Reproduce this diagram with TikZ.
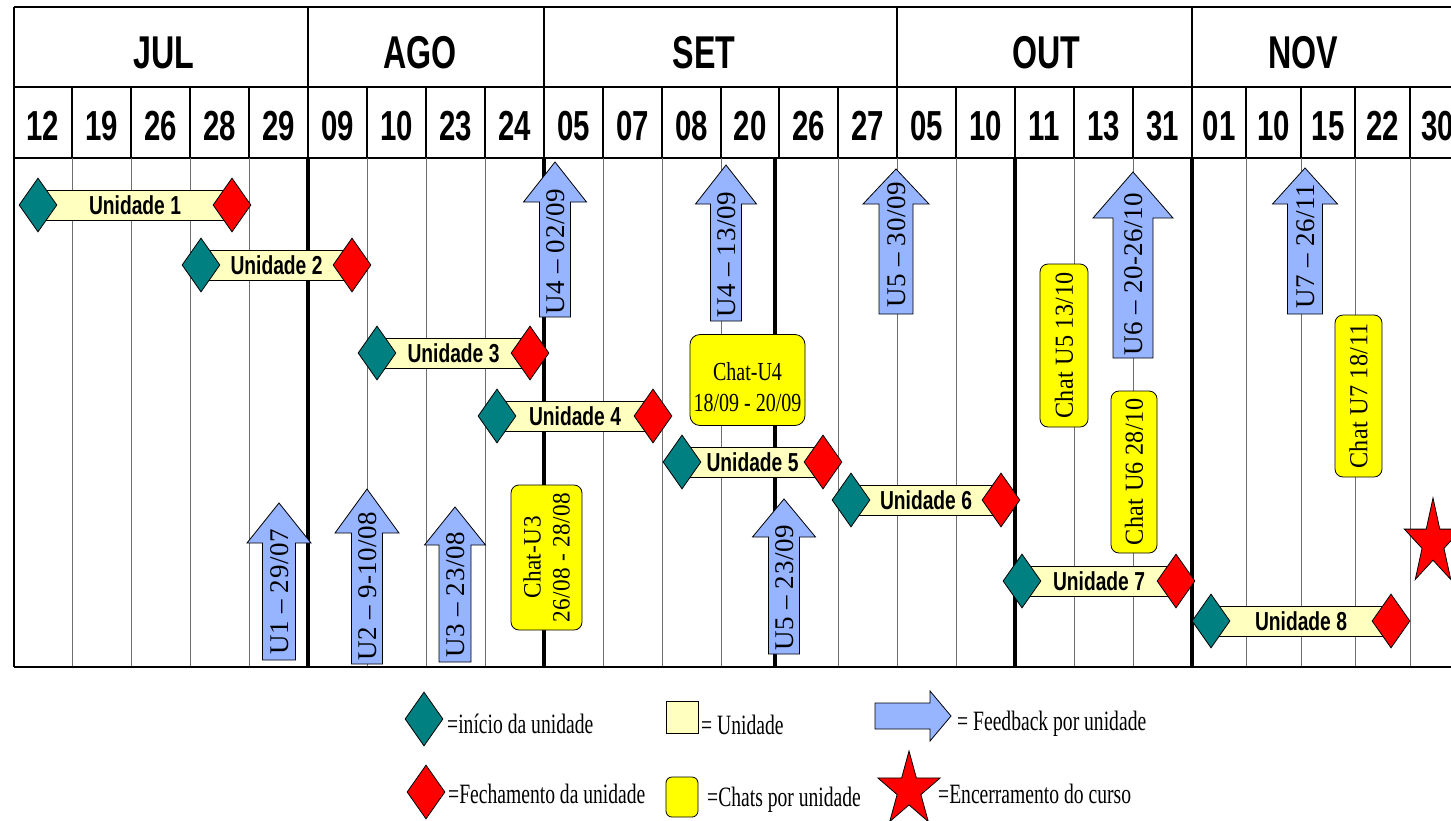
\documentclass[tikz,border=0pt]{standalone}
\usepackage{fontspec}
\usetikzlibrary{shapes.geometric}
\setmainfont{Liberation Serif}
\newfontfamily\hdrfont[FakeStretch=0.7]{Liberation Sans}
\newfontfamily\unitfont[FakeStretch=0.74]{Liberation Sans}
\newfontfamily\legfont[FakeStretch=0.7]{Liberation Serif}
\newfontfamily\chatfont[FakeStretch=0.77]{Liberation Serif}
\newfontfamily\rotfont[LetterSpace=2]{Liberation Serif}
\newfontfamily\rotchatfont[FakeStretch=0.93,LetterSpace=1.5]{Liberation Serif}
\definecolor{tealA}{RGB}{0,128,128}
\definecolor{barY}{RGB}{255,255,192}
\definecolor{fbBlue}{RGB}{150,180,255}
\definecolor{chatY}{RGB}{255,255,0}
\definecolor{gridG}{RGB}{110,110,110}
\newcommand{\unitrow}[5]{%
  \node[barbox, minimum width={#3-#2-6}] (#1) at ({(#2+#3)/2},-#4) {#5};
  \node[startd] (#1s) at (#2,-#4) {};
  \node[endd] (#1e) at (#3,-#4) {};
}
\newcommand{\fbup}[9]{%
  \draw[fbarrow] ({#2-#6/2},-#5) -- ({#2-#6/2},-#4) -- ({#2-#7/2},-#4) -- (#2,-#3) -- ({#2+#7/2},-#4) -- ({#2+#6/2},-#4) -- ({#2+#6/2},-#5) -- cycle;
  \node[fbtext] (#1) at (#2,-#8) {#9};
}
\begin{document}
\begin{tikzpicture}[x=1pt,y=1pt,
  hdrline/.style={draw=black, line width=1.4},
  thinv/.style={draw=gridG, line width=1},
  thickv/.style={draw=black, line width=3.5},
  monlbl/.style={inner sep=0, font={\hdrfont\bfseries\fontsize{46}{50}\selectfont}},
  daylbl/.style={inner sep=0, font={\hdrfont\bfseries\fontsize{42}{44}\selectfont}},
  startd/.style={diamond, draw=black, line width=0.8, fill=tealA, minimum width=38, minimum height=54, inner sep=0},
  endd/.style={diamond, draw=black, line width=0.8, fill=red, minimum width=38, minimum height=54, inner sep=0},
  barbox/.style={rectangle, draw=black, line width=0.8, fill=barY, minimum height=30, inner sep=0, font={\unitfont\bfseries\fontsize{26}{28}\selectfont}},
  fbarrow/.style={draw=black, line width=0.8, fill=fbBlue},
  fbtext/.style={rotate=90, inner sep=0, text height=18, text depth=0, font={\rotfont\fontsize{27}{30}\selectfont}},
  rotchat/.style={draw=black, line width=0.8, fill=chatY, rounded corners=8, rotate=90, inner sep=0, align=center, font={\rotchatfont\fontsize{26}{30}\selectfont}},
  chatbox/.style={draw=black, line width=0.8, fill=chatY, rounded corners=10, inner sep=0},
  legtext/.style={anchor=base west, inner sep=0, font={\legfont\fontsize{28}{30}\selectfont}}
]
\clip (0,0) rectangle (1451,-820);
\fill[white] (0,0) rectangle (1451,-820);
% header
\draw[hdrline] (14,-7) -- (1451,-7);
\foreach \x in {14,308,544,897,1192} \draw[hdrline] (\x,-7) -- (\x,-87);
\draw[hdrline] (14,-87) -- (1451,-87);
\draw[hdrline] (14,-158) -- (1451,-158);
\foreach \x in {14,72,131,190,249,308,367,426,485,544,603,662,721,779,838,897,956,1015,1074,1133,1192,1246,1301,1355,1410}
  \draw[hdrline] (\x,-87) -- (\x,-158);
\node[monlbl] (jul) at (164,-53) {JUL};
\node[monlbl] (ago) at (420,-53) {AGO};
\node[monlbl] (set) at (704,-53) {SET};
\node[monlbl] (out) at (1046,-53) {OUT};
\node[monlbl] (nov) at (1303,-53) {NOV};
\foreach \xa/\xb/\l [count=\i] in {14/72/12,72/131/19,131/190/26,190/249/28,249/308/29,308/367/09,367/426/10,426/485/23,485/544/24,544/603/05,603/662/07,662/721/08,721/779/20,779/838/26,838/897/27,897/956/05,956/1015/10,1015/1074/11,1074/1133/13,1133/1192/31,1192/1246/01,1246/1301/10,1301/1355/15,1355/1410/22,1410/1465/30}
  \node[daylbl] (day\i) at ({(\xa+\xb)/2},-126) {\l};
% body grid
\foreach \x in {72,131,190,249,367,426,485,603,662,721,838,897,956,1074,1133,1246,1301,1355,1410}
  \draw[thinv] (\x,-158) -- (\x,-667);
\foreach \x in {308,544,775,1015,1192}
  \draw[thickv] (\x,-158) -- (\x,-667);
\draw[black, line width=1.2] (14,-158) -- (14,-667);
\draw[black, line width=2] (14,-667) -- (1451,-667);
% feedback arrows
\fbup{fbA}{555}{162}{202}{317}{31}{63}{252}{U4 – 02/09}
\fbup{fbB}{726}{165}{204}{321}{31}{61}{255}{U4 – 13/09}
\fbup{fbC}{896}{169}{204}{314}{34}{66}{245}{U5 – 30/09}
\fbup{fbD}{1133}{172}{218}{358}{40}{80}{274}{U6 – 20-26/10}
\fbup{fbE}{1305}{168}{204}{314}{35}{65}{246}{U7 – 26/11}
\fbup{fbF}{279}{503}{543}{660}{33}{64}{592}{U1 – 29/07}
\fbup{fbG}{367}{489}{533}{664}{31}{64}{586}{U2 – 9-10/08}
\fbup{fbH}{455}{507}{545}{662}{32}{61}{595}{U3 – 23/08}
\fbup{fbI}{784}{499}{537}{654}{31}{63}{588}{U5 – 23/09}
% chats
\node[chatbox, minimum width=115, minimum height=91] (chat4) at (747.5,-380) {};
\node[inner sep=0, align=center, font={\chatfont\fontsize{26}{31}\selectfont}] (chat4t) at (747.5,-387) {Chat-U4\\18/09 - 20/09};
\node[rotchat, minimum width=145, minimum height=71, font={\rotchatfont\fontsize{25}{29}\selectfont}] (chat3) at (546.5,-557.5) {Chat-U3\\26/08 - 28/08};
\node[rotchat, minimum width=163, minimum height=48] (chat5) at (1064,-345.5) {Chat U5 13/10};
\node[rotchat, minimum width=162, minimum height=46] (chat6) at (1134,-472) {Chat U6 28/10};
\node[rotchat, minimum width=162, minimum height=47] (chat7) at (1358.5,-396) {Chat U7 18/11};
% units
\unitrow{u1}{38}{232}{205}{Unidade 1}
\unitrow{u2}{201}{352}{265}{Unidade 2}
\unitrow{u3}{377}{530}{353}{Unidade 3}
\unitrow{u4}{497}{653}{416}{Unidade 4}
\unitrow{u5}{682}{823}{462}{Unidade 5}
\unitrow{u6}{851}{1001}{500}{Unidade 6}
\unitrow{u7}{1022}{1176}{581}{Unidade 7}
\unitrow{u8}{1211}{1391}{621}{Unidade 8}
% end star
\begin{scope}[shift={(1433,-543)}, xscale=0.67]
  \node[star, star points=5, star point ratio=2.618, draw=black, line width=0.8, fill=red, minimum size=90, inner sep=0, transform shape] (endstar) at (0,0) {};
\end{scope}
% legend
\node[startd] (legstart) at (424,-719) {};
\node[legtext] (legstartt) at (447,-733) {=início da unidade};
\node[rectangle, draw=black, line width=0.8, fill=barY, minimum size=32, inner sep=0] (legbar) at (682,-717) {};
\node[legtext] (legbart) at (701,-734) {= Unidade};
\draw[fbarrow] (875,-703) -- (930,-703) -- (930,-691) -- (951,-716) -- (930,-741) -- (930,-729) -- (875,-729) -- cycle;
\node[legtext] (legfbt) at (957,-730) {= Feedback por unidade};
\node[endd] (legend) at (426,-792) {};
\node[legtext] (legendt) at (448,-803) {=Fechamento da unidade};
\node[chatbox, rounded corners=6, minimum width=32, minimum height=40] (legchat) at (682,-797) {};
\node[legtext] (legchatt) at (707,-806) {=Chats por unidade};
\begin{scope}[shift={(909,-790)}, xscale=0.84]
  \node[star, star points=5, star point ratio=2.618, draw=black, line width=0.8, fill=red, minimum size=78, inner sep=0, transform shape] (legstar) at (0,0) {};
\end{scope}
\node[legtext] (legstart2) at (938,-803) {=Encerramento do curso};
\end{tikzpicture}
\end{document}
